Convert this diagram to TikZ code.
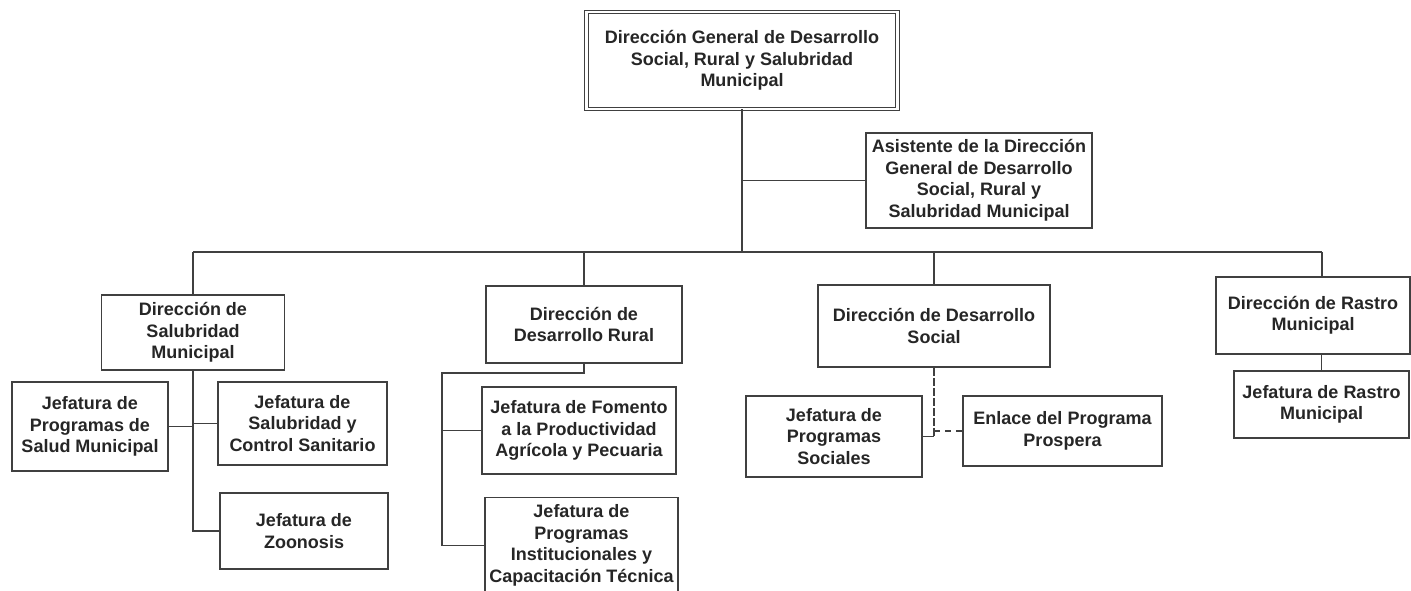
\documentclass[tikz,border=0pt]{standalone}
\usepackage{fontspec}
\setmainfont{Liberation Sans}

\begin{document}
\begin{tikzpicture}[x=1pt,y=-1pt,
	every node/.style={font=\bfseries\fontsize{18}{21.5}\selectfont,text=black!85,align=center,inner sep=0pt},
	unit/.style={draw=black!75,line width=1.5pt,fill=white},
	link/.style={draw=black!75,line width=1.4pt}]
	\useasboundingbox (0,0) rectangle (1411,590);

		 % top and assistant
		 \node[unit,double,double distance=2.6pt,line width=0.9pt,minimum width=311pt,minimum height=97pt] (root) at (742,60.5) {Dirección General de Desarrollo\\Social, Rural y Salubridad\\Municipal};
		 \node[unit,minimum width=226pt,minimum height=95pt] (asst) at (979,180.5) {Asistente de la Dirección\\General de Desarrollo\\Social, Rural y\\Salubridad Municipal};

		 % salubridad
		 \node[unit,minimum width=183pt,minimum height=75pt] (salub) at (193,332.5) {Dirección de\\Salubridad\\Municipal};
		 \node[unit,minimum width=156pt,minimum height=89pt] (progsalud) at (90,426.5) {Jefatura de\\Programas de\\Salud Municipal};
		 \node[unit,minimum width=169pt,minimum height=83pt] (control) at (302.5,423.5) {Jefatura de\\Salubridad y\\Control Sanitario};
		 \node[unit,minimum width=168pt,minimum height=76pt] (zoon) at (304,531) {Jefatura de\\Zoonosis};

		 % desarrollo rural
		 \node[unit,minimum width=196pt,minimum height=77pt] (rural) at (584,324.5) {Dirección de\\Desarrollo Rural};
		 \node[unit,minimum width=194pt,minimum height=87pt] (fomento) at (579,430.5) {Jefatura de Fomento\\a la Productividad\\Agrícola y Pecuaria};
		 \node[unit,minimum width=193pt,minimum height=96pt] (inst) at (581.5,545.5) {Jefatura de\\Programas\\Institucionales y\\Capacitación Técnica};

		 % desarrollo social
		 \node[unit,minimum width=232pt,minimum height=82pt] (social) at (934,326) {Dirección de Desarrollo\\Social};
		 \node[unit,minimum width=176pt,minimum height=81pt] (progsoc) at (834,436.5) {Jefatura de\\Programas\\Sociales};
		 \node[unit,minimum width=199pt,minimum height=70pt] (enlace) at (1062.5,431) {Enlace del Programa\\Prospera};

		 % rastro
		 \node[unit,minimum width=194pt,minimum height=77pt] (rastro) at (1313,315.5) {Dirección de Rastro\\Municipal};
		 \node[unit,minimum width=175pt,minimum height=67pt] (jrastro) at (1321.5,404.5) {Jefatura de Rastro\\Municipal};

		 \coordinate (hub)    at (742,252);
		 \coordinate (busL)   at (193,252);
		 \coordinate (busR)   at (1322,252);
		 \coordinate (rspine) at (442,373);
		 \coordinate (sjoint) at (934,436.5);

		\draw[link,line width=2.4pt]	(root.south)	--	(hub);
		\draw[link]	(asst.west)	--	(asst.west -| hub);
		\draw[link]	(busL)	--	(busR);
		\draw[link]	(busL)	--	(salub.north);
		\draw[link]	(rural.north |- hub)	--	(rural.north);
		\draw[link]	(social.north |- hub)	--	(social.north);
		\draw[link]	(busR)	--	(busR |- rastro.north);

		\draw[link]	(salub.south)	|-	(zoon.west);
		\draw[link]	(progsalud.east)	--	(progsalud.east -| salub.south);
		\draw[link]	(control.west)	--	(control.west -| salub.south);

		\draw[link]	(rural.south)	|-	(rspine)	|-	(inst.west);
		\draw[link]	(fomento.west)	--	(fomento.west -| rspine);

		\draw[link,dash pattern=on 8pt off 2pt]	(social.south)	--	(sjoint);
		\draw[link]	(progsoc.east)	--	(sjoint);
		\draw[link,dash pattern=on 6pt off 5pt]	(enlace.west -| sjoint)	--	(enlace.west);

		\draw[link]	(jrastro.north)	--	(jrastro.north |- rastro.south);
	\end{tikzpicture}
\end{document}
